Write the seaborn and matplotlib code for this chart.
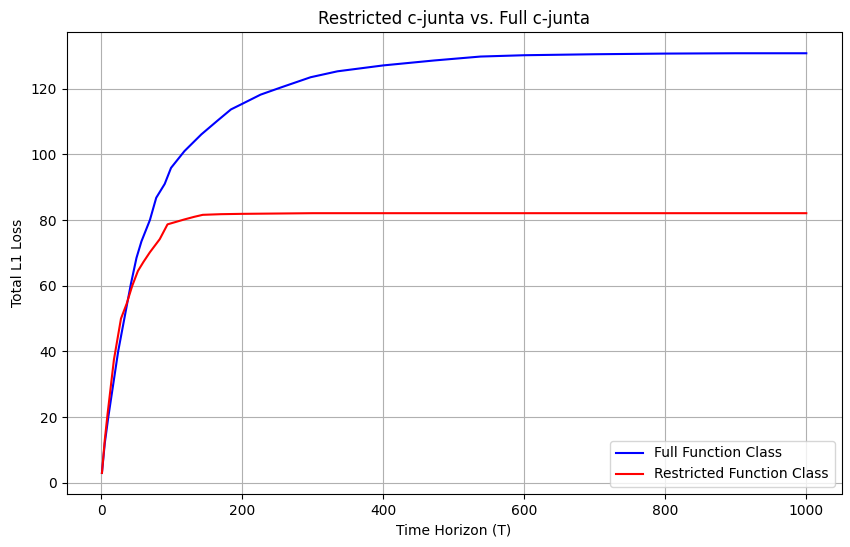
import pandas as pd
import matplotlib
matplotlib.use("Agg")
import matplotlib.pyplot as plt
import seaborn as sns

# values
T_full = [1, 5, 10, 17, 24, 31, 42, 50, 57, 69, 78, 90, 99, 118, 142, 165, 184,
          200, 226, 255, 297, 335, 400, 472, 538, 600, 700, 800, 900, 1000]
loss_full = [3, 12, 20, 30, 40, 48, 60.5, 68.5, 73.5, 80, 86.8, 91, 95.9, 101,
             106.1, 110.3, 113.7, 115.4, 118.2, 120.4, 123.5, 125.3, 127.1,
             128.6, 129.8, 130.2, 130.5, 130.7, 130.8, 130.8]

T_restr = [1, 5, 9, 18, 28, 36, 44, 52, 60, 69, 83, 94, 118, 132, 144, 170,
           200, 300, 500, 1000]
loss_restr = [3, 13, 21, 37.5, 50, 54.5, 60, 64.5, 67.3, 70.2, 74.2, 78.7, 80.2,
              81, 81.6, 81.8, 81.9, 82.1, 82.1, 82.1]

df_full = pd.DataFrame({"T": T_full, "loss": loss_full})
df_restr = pd.DataFrame({"T": T_restr, "loss": loss_restr})

fig, ax = plt.subplots(figsize=(8.5, 5.47), dpi=100)
sns.lineplot(data=df_full, x="T", y="loss", color="blue", label="Full Function Class", ax=ax)
sns.lineplot(data=df_restr, x="T", y="loss", color="red", label="Restricted Function Class", ax=ax)

ax.set_title("Restricted c-junta vs. Full c-junta")
ax.set_xlabel("Time Horizon (T)")
ax.set_ylabel("Total L1 Loss")
ax.grid(True)
ax.legend(loc="lower right")

plt.subplots_adjust(left=0.0785, right=0.990, top=0.941, bottom=0.097)
plt.savefig("out.png", dpi=100)
